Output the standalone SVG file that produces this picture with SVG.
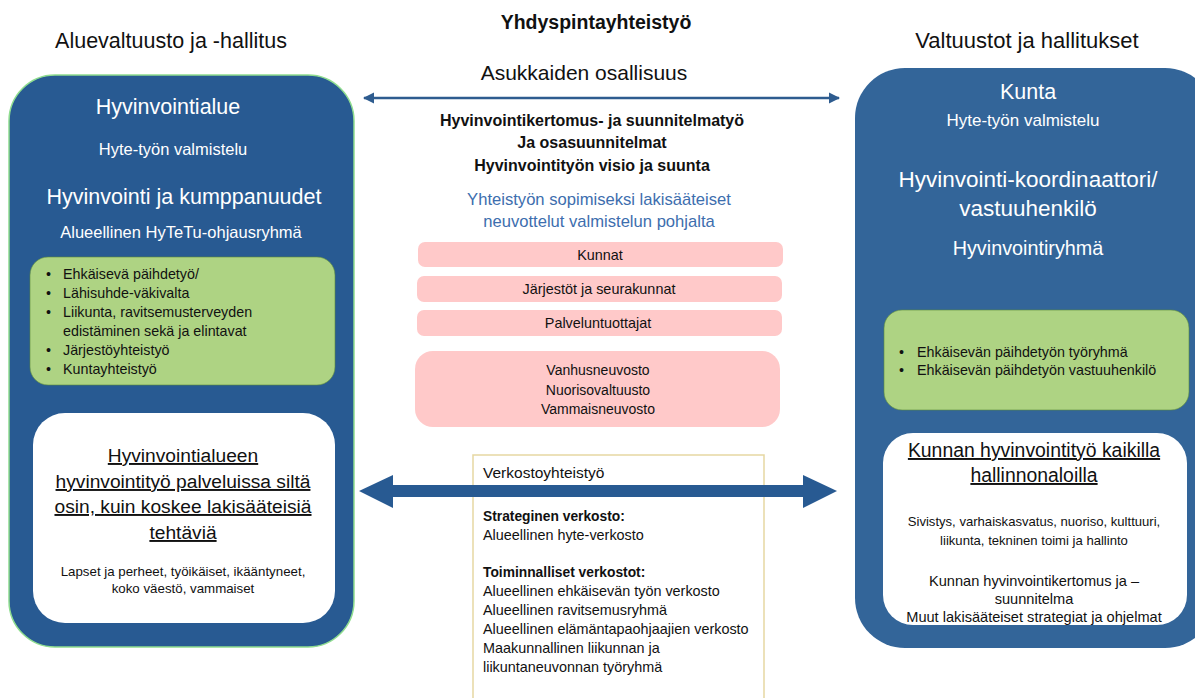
<svg xmlns="http://www.w3.org/2000/svg" width="1195" height="698" viewBox="0 0 1195 698">
<defs>
<marker id="ah" viewBox="0 0 10 10" refX="9" refY="5" markerWidth="4.5" markerHeight="4.5" orient="auto-start-reverse" markerUnits="strokeWidth">
<path d="M0,0 L10,5 L0,10 z" fill="#2E5C8F"/>
</marker>
<style>
text{font-family:"Liberation Sans",Arial,sans-serif;}
.w{fill:#ffffff;text-anchor:middle;}
.k{fill:#111111;}
.c{text-anchor:middle;}
.b{font-weight:bold;}
.pink{fill:#FFC9C9;}
.green{fill:#AED383;stroke:#5A8A3A;stroke-width:0.6;}
.white{fill:#ffffff;}
</style>
</defs>
<rect width="1195" height="698" fill="#ffffff"/>

<g id="headers">
<text x="171" y="48" class="k c" font-size="21.5">Aluevaltuusto ja -hallitus</text>
<text x="596" y="29" class="k c b" font-size="19.5">Yhdyspintayhteistyö</text>
<text x="584" y="80" class="k c" font-size="21">Asukkaiden osallisuus</text>
<text x="1027" y="48" class="k c" font-size="22">Valtuustot ja hallitukset</text>
</g>

<g id="left-region">
<rect x="9" y="75" width="345" height="572" rx="46" fill="#285A92" stroke="#8FDD8F" stroke-width="1.5"/>
<text x="168" y="114" class="w" font-size="21.5">Hyvinvointialue</text>
<text x="173" y="155" class="w" font-size="16.5">Hyte-työn valmistelu</text>
<text x="184" y="204" class="w" font-size="21.5">Hyvinvointi ja kumppanuudet</text>
<text x="181" y="238" class="w" font-size="16.5">Alueellinen HyTeTu-ohjausryhmä</text>
</g>

<g id="left-green">
<rect x="30" y="257" width="305" height="128" rx="18" class="green"/>
<g class="k" font-size="14.3">
<text x="46" y="279">•</text><text x="63" y="279">Ehkäisevä päihdetyö/</text>
<text x="46" y="298">•</text><text x="63" y="298">Lähisuhde-väkivalta</text>
<text x="46" y="317">•</text><text x="63" y="317">Liikunta, ravitsemusterveyden</text>
<text x="63" y="336">edistäminen sekä ja elintavat</text>
<text x="46" y="355">•</text><text x="63" y="355">Järjestöyhteistyö</text>
<text x="46" y="374">•</text><text x="63" y="374">Kuntayhteistyö</text>
</g>
</g>

<g id="left-white">
<rect x="33" y="413" width="302" height="210" rx="32" class="white"/>
<g class="k c" font-size="19.2" text-decoration="underline">
<text x="183" y="462">Hyvinvointialueen</text>
<text x="183" y="488">hyvinvointityö palveluissa siltä</text>
<text x="183" y="513">osin, kuin koskee lakisääteisiä</text>
<text x="183" y="539">tehtäviä</text>
</g>
<g class="k c" font-size="13.3">
<text x="183" y="576">Lapset ja perheet, työikäiset, ikääntyneet,</text>
<text x="183" y="593">koko väestö, vammaiset</text>
</g>
</g>

<g id="center-text">
<g class="k c b" font-size="16">
<text x="592" y="126">Hyvinvointikertomus- ja suunnitelmatyö</text>
<text x="592" y="148">Ja osasuunnitelmat</text>
<text x="592" y="171">Hyvinvointityön visio ja suunta</text>
</g>
<g class="c" font-size="16.6" fill="#3D6EAE">
<text x="599" y="205">Yhteistyön sopimiseksi lakisääteiset</text>
<text x="599" y="227">neuvottelut valmistelun pohjalta</text>
</g>
</g>

<g id="kunnat"><rect x="418" y="242" width="365" height="25" rx="7" class="pink"/><text x="600" y="260" class="k c" font-size="14.4">Kunnat</text></g>
<g id="jarjestot"><rect x="417" y="276" width="365" height="26" rx="7" class="pink"/><text x="599" y="294" class="k c" font-size="14.4">Järjestöt ja seurakunnat</text></g>
<g id="palveluntuottajat"><rect x="417" y="310" width="365" height="26" rx="7" class="pink"/><text x="598" y="328" class="k c" font-size="14.4">Palveluntuottajat</text></g>
<g id="neuvostot"><rect x="415" y="351" width="365" height="76" rx="18" class="pink"/>
<g class="k c" font-size="14"><text x="598" y="375">Vanhusneuvosto</text><text x="598" y="395">Nuorisovaltuusto</text><text x="598" y="414">Vammaisneuvosto</text></g></g>

<g id="verkosto">
<rect x="473" y="455" width="291" height="260" fill="#ffffff" stroke="#E6D7A2" stroke-width="1.5"/>
<text x="483" y="478" class="k" font-size="15.5">Verkostoyhteistyö</text>
<g class="k" font-size="14.4">
<text x="483" y="521" class="b" font-size="13.8">Strateginen verkosto:</text>
<text x="483" y="540">Alueellinen hyte-verkosto</text>
<text x="483" y="577" class="b" font-size="13.8">Toiminnalliset verkostot:</text>
<text x="483" y="596">Alueellinen ehkäisevän työn verkosto</text>
<text x="483" y="615">Alueellinen ravitsemusryhmä</text>
<text x="483" y="634">Alueellinen elämäntapaohjaajien verkosto</text>
<text x="483" y="653">Maakunnallinen liikunnan ja</text>
<text x="483" y="672">liikuntaneuvonnan työryhmä</text>
</g>
</g>

<g id="right-region">
<rect x="855" y="68" width="360" height="580" rx="50" fill="#336599"/>
<text x="1028" y="99" class="w" font-size="21.5">Kunta</text>
<text x="1023" y="126" class="w" font-size="17">Hyte-työn valmistelu</text>
<text x="1028" y="187" class="w" font-size="22.5">Hyvinvointi-koordinaattori/</text>
<text x="1028" y="216" class="w" font-size="22.5">vastuuhenkilö</text>
<text x="1028" y="255" class="w" font-size="19.8">Hyvinvointiryhmä</text>
</g>

<g id="right-green">
<rect x="884" y="310" width="305" height="100" rx="18" class="green"/>
<g class="k" font-size="14.3">
<text x="899" y="357">•</text><text x="917" y="357">Ehkäisevän päihdetyön työryhmä</text>
<text x="899" y="375">•</text><text x="917" y="375">Ehkäisevän päihdetyön vastuuhenkilö</text>
</g>
</g>

<g id="right-white">
<rect x="883" y="433" width="304" height="192" rx="30" class="white"/>
<g class="k c" font-size="19.4" text-decoration="underline">
<text x="1034" y="457">Kunnan hyvinvointityö kaikilla</text>
<text x="1034" y="482">hallinnonaloilla</text>
</g>
<g class="k c" font-size="13.1">
<text x="1034" y="526">Sivistys, varhaiskasvatus, nuoriso, kulttuuri,</text>
<text x="1034" y="545">liikunta,  tekninen toimi ja hallinto</text>
</g>
<g class="k c" font-size="14.6">
<text x="1034" y="586">Kunnan hyvinvointikertomus ja –</text>
<text x="1034" y="604">suunnitelma</text>
<text x="1034" y="622">Muut lakisääteiset strategiat ja ohjelmat</text>
</g>
</g>

<g id="connectors">
<line x1="364" y1="98" x2="839" y2="98" stroke="#2E5C8F" stroke-width="2.5" marker-start="url(#ah)" marker-end="url(#ah)"/>
<polygon points="359,491 393,475 393,485 803,485 803,475 837,491 803,508 803,497 393,497 393,508" fill="#285A92"/>
</g>
</svg>
